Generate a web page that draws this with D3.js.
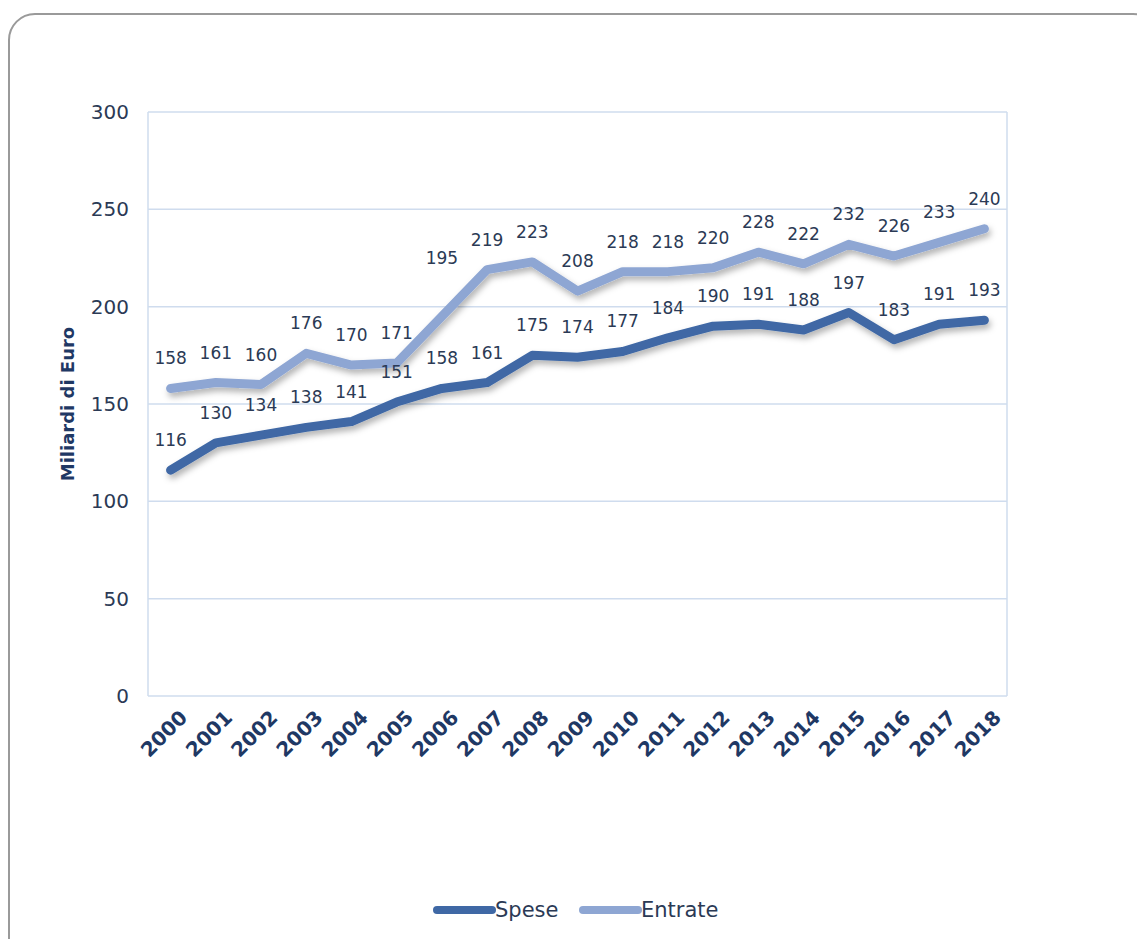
<!doctype html>
<html>
<head>
<meta charset="utf-8"/>
<title>Spese ed Entrate</title>
<script src="https://d3js.org/d3.v7.min.js"></script>
<style>
body { margin:0; background:#fff; }
text { font-family: "DejaVu Sans", Verdana, sans-serif; }
</style>
</head>
<body>
<script>
// dati
var anni = ["2000","2001","2002","2003","2004","2005","2006","2007","2008","2009",
            "2010","2011","2012","2013","2014","2015","2016","2017","2018"];
var spese   = [116,130,134,138,141,151,158,161,175,174,177,184,190,191,188,197,183,191,193];
var entrate = [158,161,160,176,170,171,195,219,223,208,218,218,220,228,222,232,226,233,240];
var yTicks  = [0,50,100,150,200,250,300];
var serie = [
  {nome:"Spese",   valori:spese,   colore:"#3f68a5"},
  {nome:"Entrate", valori:entrate, colore:"#8ea6d3"}
];

var W = 1137, H = 939;
var mSx = 148, mDx = 1007, mSu = 112, mGiu = 696;

var svg = d3.select("body").append("svg")
  .attr("width", W).attr("height", H);

// ombra delle linee
var f = svg.append("defs").append("filter").attr("id","ombra")
  .attr("x","-10%").attr("y","-10%").attr("width","120%").attr("height","130%");
f.append("feDropShadow").attr("dx",2).attr("dy",4).attr("stdDeviation",3)
  .attr("flood-color","#000").attr("flood-opacity",0.3);

// cornice arrotondata
svg.append("rect").attr("x",9).attr("y",14).attr("width",1150).attr("height",960)
  .attr("rx",26).attr("fill","none").attr("stroke","#9a9a9a").attr("stroke-width",2);

var x = d3.scalePoint().domain(anni).range([mSx, mDx]).padding(0.5);
var y = d3.scaleLinear().domain([0,300]).range([mGiu, mSu]);

// griglia
svg.append("g").selectAll("line").data(yTicks).join("line")
  .attr("x1", mSx).attr("x2", mDx)
  .attr("y1", d => y(d)).attr("y2", d => y(d))
  .attr("stroke","#cfdcee").attr("stroke-width",1.5);
svg.append("line").attr("x1",mSx).attr("x2",mSx).attr("y1",mSu).attr("y2",mGiu)
  .attr("stroke","#cfdcee").attr("stroke-width",1.5);
svg.append("line").attr("x1",mDx).attr("x2",mDx).attr("y1",mSu).attr("y2",mGiu)
  .attr("stroke","#cfdcee").attr("stroke-width",1.5);

// asse y
var ay = svg.append("g").attr("transform","translate(" + mSx + ",0)")
  .call(d3.axisLeft(y).tickValues(yTicks).tickSize(0).tickPadding(19));
ay.select(".domain").remove();
ay.selectAll("text").attr("font-size",20).attr("fill","#2b3a55")
  .style("font-family","'DejaVu Sans', Verdana, sans-serif");

svg.append("text")
  .attr("transform","translate(74," + ((mSu+mGiu)/2) + ") rotate(-90)")
  .attr("text-anchor","middle").attr("font-size",18).attr("font-weight","bold")
  .attr("fill","#1f3864").text("Miliardi di Euro");

// asse x
svg.append("g").selectAll("text").data(anni).join("text")
  .attr("transform", d => "translate(" + (x(d)+8) + "," + (mGiu+13) + ") rotate(-45)")
  .attr("text-anchor","end").attr("dy","0.7em")
  .attr("font-size",20).attr("font-weight","bold").attr("fill","#1f3864")
  .text(d => d);

// linee
var linea = d3.line().x((d,i) => x(anni[i])).y(d => y(d));
serie.forEach(function(s){
  svg.append("path").datum(s.valori)
    .attr("d", linea).attr("fill","none")
    .attr("stroke", s.colore).attr("stroke-width",9)
    .attr("stroke-linecap","round").attr("stroke-linejoin","round")
    .attr("filter","url(#ombra)");
});

// etichette
serie.forEach(function(s){
  svg.append("g").selectAll("text").data(s.valori).join("text")
    .attr("x", (d,i) => x(anni[i]))
    .attr("y", function(d,i){
      var off = 24;
      if (s.nome == "Entrate" && anni[i] == "2006") off = 52;
      return y(d) - off;
    })
    .attr("text-anchor","middle").attr("font-size",17).attr("fill","#2b3a55")
    .text(d => d);
});

// legenda
var leg = svg.append("g").attr("transform","translate(0,910)");
var posLeg = [437, 583];
serie.forEach(function(s,i){
  leg.append("line").attr("x1",posLeg[i]).attr("x2",posLeg[i]+55)
    .attr("stroke",s.colore).attr("stroke-width",8).attr("stroke-linecap","round");
  leg.append("text").attr("x",posLeg[i]+58).attr("dy","0.35em")
    .attr("font-size",21).attr("fill","#2b3a55").text(s.nome);
});
</script>
</body>
</html>
